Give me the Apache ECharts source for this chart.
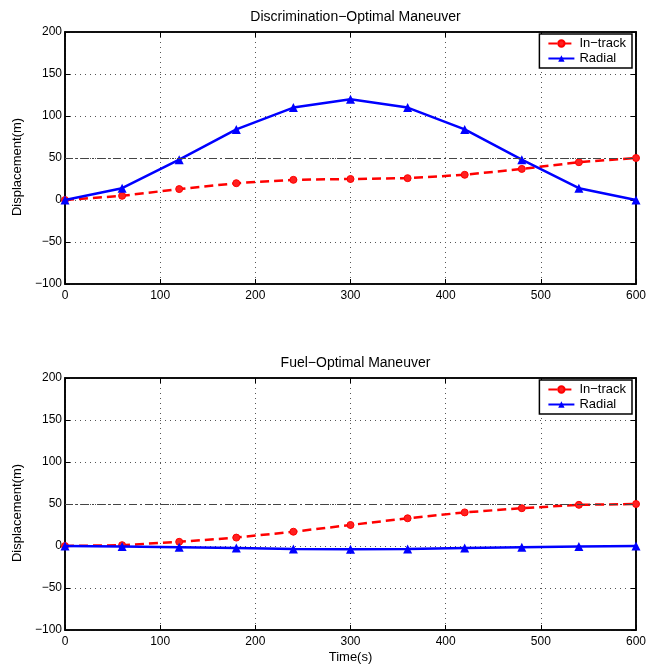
<!DOCTYPE html>
<html>
<head>
<meta charset="utf-8">
<script src="https://cdn.jsdelivr.net/npm/echarts@6/dist/echarts.min.js"></script>
<style>
  html, body { margin: 0; padding: 0; background: #fff; }
  #chart { width: 661px; height: 666px; }
</style>
</head>
<body>
<div id="chart"></div>
<script>
// Time samples (s)
const timeSec = [0, 60, 120, 180, 240, 300, 360, 420, 480, 540, 600];

// Discrimination-optimal maneuver displacements (m)
const discInTrack = [0, 5, 13, 20, 24, 25, 26, 30, 37, 45, 50];
const discRadial = [0, 14, 48, 84, 110, 120, 110, 84, 48, 14, 0];

// Fuel-optimal maneuver displacements (m)
const fuelInTrack = [0, 1, 5, 10, 17, 25, 33, 40, 45, 49, 50];
const fuelRadial = [0, -0.5, -1.5, -2.5, -3.5, -4, -3.5, -2.5, -1.5, -0.5, 0];

// Reference level (m)
const targetLevel = 50;

const titles = ['Discrimination\u2212Optimal Maneuver', 'Fuel\u2212Optimal Maneuver'];
const seriesNames = ['In\u2212track', 'Radial'];

const FONT = '"Liberation Sans", Arial, Helvetica, sans-serif';
const panels = [
  { inTrack: discInTrack, radial: discRadial, top: 32 },
  { inTrack: fuelInTrack, radial: fuelRadial, top: 378 }
];
const plotLeft = 65, plotWidth = 571, plotHeight = 252;

const pairs = (ys) => timeSec.map((t, i) => [t, ys[i]]);
const minusFmt = (v) => String(v).replace('-', '\u2212');

const frameLine = { show: true, onZero: false, lineStyle: { color: '#000', width: 1.6 } };
const tickStyle = { show: true, inside: true, length: 5, lineStyle: { color: '#000' } };
const gridLine = { show: true, lineStyle: { color: '#555', type: [1, 4], width: 1 } };
const labelStyle = { fontFamily: FONT, fontSize: 12, color: '#000', margin: 3, formatter: minusFmt };

const xAxes = [], yAxes = [];
panels.forEach((p, i) => {
  xAxes.push({
    type: 'value', gridIndex: i, min: 0, max: 600, interval: 100, position: 'bottom',
    name: i === 1 ? 'Time(s)' : '',
    nameLocation: 'middle', nameGap: 21,
    nameTextStyle: { fontFamily: FONT, fontSize: 13, color: '#000' },
    axisLine: frameLine,
    axisTick: tickStyle,
    axisLabel: Object.assign({}, labelStyle, { margin: 6 }),
    splitLine: gridLine
  });
  // mirrored ticks along the top edge
  xAxes.push({
    type: 'value', gridIndex: i, min: 0, max: 600, interval: 100, position: 'top',
    axisLine: frameLine,
    axisTick: tickStyle, axisLabel: { show: false }, splitLine: { show: false }
  });
  yAxes.push({
    type: 'value', gridIndex: i, min: -100, max: 200, interval: 50, position: 'left',
    name: 'Displacement(m)',
    nameLocation: 'middle', nameGap: 36, nameRotate: 90,
    nameTextStyle: { fontFamily: FONT, fontSize: 13, color: '#000', padding: [0, 18, 0, 0] },
    axisLine: frameLine,
    axisTick: tickStyle,
    axisLabel: labelStyle,
    splitLine: gridLine
  });
  // mirrored ticks along the right edge
  yAxes.push({
    type: 'value', gridIndex: i, min: -100, max: 200, interval: 50, position: 'right',
    axisLine: frameLine,
    axisTick: tickStyle, axisLabel: { show: false }, splitLine: { show: false }
  });
});

const option = {
  animation: false,
  backgroundColor: '#fff',
  textStyle: { fontFamily: FONT },
  title: panels.map((p, i) => ({
    text: titles[i],
    left: plotLeft + plotWidth / 2,
    textAlign: 'center',
    top: p.top - 27,
    textStyle: { fontFamily: FONT, fontSize: 14, fontWeight: 'normal', color: '#000' }
  })),
  legend: panels.map((p, i) => ({
    data: seriesNames,
    right: 661 - (plotLeft + plotWidth) + 4,
    top: p.top + 2,
    orient: 'vertical',
    itemGap: 2,
    itemWidth: 26,
    itemHeight: 8,
    padding: [3, 6, 3, 8],
    borderColor: '#000',
    borderWidth: 1.5,
    backgroundColor: '#fff',
    textStyle: { fontFamily: FONT, fontSize: 13, color: '#000' },
    selectedMode: false
  })),
  grid: panels.map(p => ({
    left: plotLeft, top: p.top, width: plotWidth, height: plotHeight,
    show: true, borderColor: '#000', borderWidth: 1.6, backgroundColor: '#fff'
  })),
  xAxis: xAxes,
  yAxis: yAxes,
  series: []
};

panels.forEach((p, i) => {
  option.series.push({
    name: seriesNames[0], type: 'line', xAxisIndex: 2 * i, yAxisIndex: 2 * i,
    data: pairs(p.inTrack),
    symbol: 'circle', symbolSize: 7, z: 3,
    lineStyle: { color: '#ff0000', width: 2.5, type: [9, 5] },
    itemStyle: { color: '#ff2020', borderColor: '#ff0000', borderWidth: 1 },
    markLine: {
      silent: true, symbol: 'none', label: { show: false },
      lineStyle: { color: '#444', width: 1.2, type: [8, 3, 2, 3] },
      data: [{ yAxis: targetLevel }]
    }
  });
  option.series.push({
    name: seriesNames[1], type: 'line', xAxisIndex: 2 * i, yAxisIndex: 2 * i,
    data: pairs(p.radial),
    symbol: 'triangle', symbolSize: 9, z: 4,
    lineStyle: { color: '#0000ff', width: 2.5 },
    itemStyle: { color: '#0000ff' }
  });
});

const chart = echarts.init(document.getElementById('chart'), null, { renderer: 'canvas' });
chart.setOption(option);
</script>
</body>
</html>
